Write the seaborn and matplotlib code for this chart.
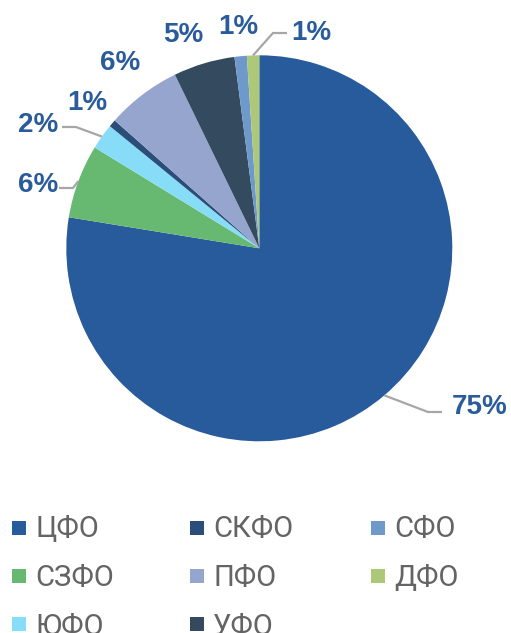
import matplotlib
matplotlib.use("Agg")
import matplotlib.pyplot as plt
from matplotlib.patches import Rectangle
import numpy as np
import seaborn as sns

# Share of each federal district (percent)
districts = ["ЦФО", "СЗФО", "ЮФО", "СКФО", "ПФО", "УФО", "СФО", "ДФО"]
shares = [75.4, 6.0, 2.1, 0.6, 6.1, 5.0, 1.0, 1.0]
colors = ["#285b9b", "#67b971", "#87dcf7", "#2b4d7a",
          "#95a5cd", "#344a5e", "#6e9acb", "#adc878"]

sns.set_style("white")
plt.rcParams["font.family"] = ["Liberation Sans", "DejaVu Sans"]

W, H = 511, 633
fig = plt.figure(figsize=(W / 100, H / 100), dpi=100)
ax = fig.add_axes([0, 0, 1, 1])

cx, cy, R = 259.3, H - 248.3, 193
wedges, _ = ax.pie(shares, colors=colors, startangle=90, counterclock=False,
                   radius=R, center=(cx, cy),
                   wedgeprops=dict(linewidth=0))
ax.set_xlim(0, W)
ax.set_ylim(0, H)
ax.set_aspect("equal")
ax.axis("off")

label_color = "#2a5b9a"
line_color = "#a6a6a6"

# text centre (x, y from top), optional leader elbow and end (x, y from top)
label_layout = {
    "ЦФО": ((480, 407.5), [(428, 412), (442, 412)]),
    "СЗФО": ((38, 184.5), [(73, 188), (59, 188)]),
    "ЮФО": ((38, 125), [(76, 127), (62, 127)]),
    "СКФО": ((87, 103.5), None),
    "ПФО": ((120, 63), None),
    "УФО": ((183, 35.5), None),
    "СФО": ((238, 26.5), None),
    "ДФО": ((311, 32.5), [(273, 33), (287, 33)]),
}

for w, name, val in zip(wedges, districts, shares):
    (tx, ty), leader = label_layout[name]
    mid = np.deg2rad((w.theta1 + w.theta2) / 2)
    rx, ry = cx + R * np.cos(mid), cy + R * np.sin(mid)
    if leader:
        xs = [rx] + [p[0] for p in leader]
        ys = [ry] + [H - p[1] for p in leader]
        ax.plot(xs, ys, color=line_color, lw=1.6, solid_capstyle="butt",
                solid_joinstyle="miter")
    ax.text(tx, H - ty, f"{val:.0f}%", ha="center", va="center",
            fontsize=20, fontweight="bold", color=label_color)

# Legend: three rows, filled column by column
col_x = [12, 190, 371]
row_base = [537.3, 586, 634.5]
row_mid = [528, 576, 624]
for i, (name, c) in enumerate(zip(districts, colors)):
    col, row = i // 3, i % 3
    x = col_x[col]
    ax.add_patch(Rectangle((x, H - row_mid[row] - 7), 14, 14,
                           facecolor=c, edgecolor="none"))
    ax.text(x + 23, H - row_base[row], name, ha="left", va="baseline",
            fontsize=21, color="#646464",
            family=["Roboto", "DejaVu Sans"], fontweight="normal")

fig.savefig("out.png", dpi=100)
